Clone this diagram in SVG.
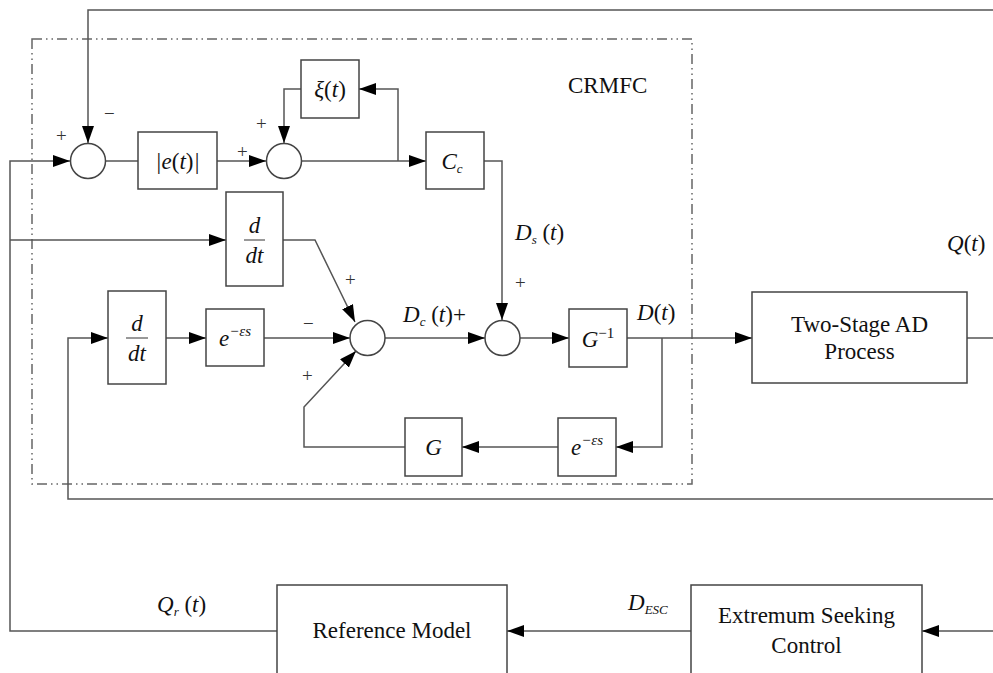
<svg xmlns="http://www.w3.org/2000/svg" width="993" height="673" viewBox="0 0 993 673">
<defs>
<marker id="ah" viewBox="0 0 17 12" refX="17" refY="6" markerWidth="17" markerHeight="12" markerUnits="userSpaceOnUse" orient="auto">
<path d="M0,0 L17,6 L0,12 Z" fill="#000"/>
</marker>
<style>
.b{fill:#fff;stroke:#444;stroke-width:1.5}
.c{fill:#fff;stroke:#444;stroke-width:1.5}
.l{fill:none;stroke:#555;stroke-width:1.5}
.a{fill:none;stroke:#555;stroke-width:1.5;marker-end:url(#ah)}
.m{font-family:"Liberation Serif",serif;font-style:italic;font-size:23px;fill:#111}
.r{font-family:"Liberation Serif",serif;font-size:23px;fill:#111}
.s{font-family:"Liberation Serif",serif;font-size:19px;fill:#333}
.sub{font-size:13px}
</style>
</defs>
<rect width="993" height="673" fill="#fff"/>
<rect id="crmfc-frame" x="32" y="39" width="660" height="445" fill="none" stroke="#666" stroke-width="1.5" stroke-dasharray="10 4 1.5 4 1.5 4"/>
<text class="r" x="568" y="93">CRMFC</text>

<g id="connectors">
<path class="a" d="M993,10 H88 V143"/>
<path class="a" d="M277,631 H10 V161 H70"/>
<path class="a" d="M10,240 H226"/>
<path class="l" d="M106,161 H138"/>
<path class="a" d="M217,161 H266"/>
<path class="a" d="M301,89 H284 V143"/>
<path class="a" d="M301,161 H426"/>
<path class="a" d="M398,161 V89 H359"/>
<path class="a" d="M484,161 H502 V320"/>
<path class="a" d="M283,240 H315 L355,322"/>
<path class="a" d="M993,499 H68 V338 H108"/>
<path class="a" d="M166,338 H206"/>
<path class="a" d="M264,338 H350"/>
<path class="a" d="M405,447 H304 V407 L356,351"/>
<path class="a" d="M558,447 H462"/>
<path class="a" d="M662,338 V447 H616"/>
<path class="a" d="M385,338 H485"/>
<path class="a" d="M520,338 H569"/>
<path class="a" d="M627,338 H752"/>
<path class="l" d="M967,338 H993"/>
<path class="a" d="M691,631 H507"/>
<path class="a" d="M993,631 H922"/>
</g>

<g id="sum1"><circle class="c" cx="88" cy="161" r="17.5"/></g>
<g id="sum2"><circle class="c" cx="284" cy="161" r="17.5"/></g>
<g id="sum3"><circle class="c" cx="367.5" cy="338" r="17.5"/></g>
<g id="sum4"><circle class="c" cx="502.5" cy="338" r="17.5"/></g>

<g id="abs-e">
<rect class="b" x="138" y="132" width="79" height="57"/>
<text class="m" x="177.5" y="169" text-anchor="middle">|e<tspan font-style="normal">(</tspan>t<tspan font-style="normal">)</tspan>|</text>
</g>
<g id="xi">
<rect class="b" x="301" y="60" width="58" height="58"/>
<text class="m" x="330" y="97" text-anchor="middle">ξ<tspan font-style="normal">(</tspan>t<tspan font-style="normal">)</tspan></text>
</g>
<g id="cc">
<rect class="b" x="426" y="132" width="58" height="57"/>
<text class="m" x="452" y="169" text-anchor="middle">C<tspan class="sub" dy="4">c</tspan></text>
</g>
<g id="ddt1">
<rect class="b" x="226" y="192" width="57" height="94"/>
<text class="m" x="254.5" y="233" text-anchor="middle">d</text>
<line x1="244" y1="240" x2="265" y2="240" stroke="#333" stroke-width="1"/>
<text class="m" x="254.5" y="263" text-anchor="middle">dt</text>
</g>
<g id="ddt2">
<rect class="b" x="108" y="291" width="58" height="93"/>
<text class="m" x="137" y="331" text-anchor="middle">d</text>
<line x1="126" y1="338" x2="148" y2="338" stroke="#333" stroke-width="1"/>
<text class="m" x="137" y="361" text-anchor="middle">dt</text>
</g>
<g id="delay1">
<rect class="b" x="206" y="309" width="58" height="57"/>
<text class="m" x="235" y="346" text-anchor="middle">e<tspan font-size="15" dy="-10">−εs</tspan></text>
</g>
<g id="ginv">
<rect class="b" x="569" y="309" width="58" height="58"/>
<text class="m" x="598" y="347" text-anchor="middle">G<tspan font-size="15" font-style="normal" dy="-9">−1</tspan></text>
</g>
<g id="g">
<rect class="b" x="405" y="418" width="57" height="58"/>
<text class="m" x="433.5" y="455" text-anchor="middle">G</text>
</g>
<g id="delay2">
<rect class="b" x="558" y="418" width="58" height="58"/>
<text class="m" x="587" y="455" text-anchor="middle">e<tspan font-size="15" dy="-10">−εs</tspan></text>
</g>
<g id="plant">
<rect class="b" x="752" y="292" width="215" height="91"/>
<text class="r" x="859.5" y="332" text-anchor="middle">Two-Stage AD</text>
<text class="r" x="859.5" y="359" text-anchor="middle">Process</text>
</g>
<g id="refmodel">
<rect class="b" x="277" y="585" width="230" height="100"/>
<text class="r" x="392" y="638" text-anchor="middle">Reference Model</text>
</g>
<g id="esc">
<rect class="b" x="691" y="585" width="231" height="100"/>
<text class="r" x="806.5" y="623" text-anchor="middle">Extremum Seeking</text>
<text class="r" x="806.5" y="653" text-anchor="middle">Control</text>
</g>

<g id="labels">
<text class="s" x="56" y="142">+</text>
<text class="s" x="104" y="120">−</text>
<text class="s" x="237" y="158">+</text>
<text class="s" x="256" y="130">+</text>
<text class="s" x="345" y="286">+</text>
<text class="s" x="303" y="330">−</text>
<text class="s" x="302" y="382">+</text>
<text class="s" x="515" y="289">+</text>
<text class="m" x="515" y="240">D<tspan class="sub" dy="4">s</tspan><tspan font-style="normal" dy="-4"> (</tspan>t<tspan font-style="normal">)</tspan></text>
<text class="m" x="403" y="322">D<tspan class="sub" dy="4">c</tspan><tspan font-style="normal" dy="-4"> (</tspan>t<tspan font-style="normal">)+</tspan></text>
<text class="m" x="637" y="320">D<tspan font-style="normal">(</tspan>t<tspan font-style="normal">)</tspan></text>
<text class="m" x="947" y="251">Q<tspan font-style="normal">(</tspan>t<tspan font-style="normal">)</tspan></text>
<text class="m" x="157" y="612">Q<tspan class="sub" dy="4">r</tspan><tspan font-style="normal" dy="-4"> (</tspan>t<tspan font-style="normal">)</tspan></text>
<text class="m" x="628" y="610">D<tspan class="sub" dy="4">ESC</tspan></text>
</g>
</svg>
